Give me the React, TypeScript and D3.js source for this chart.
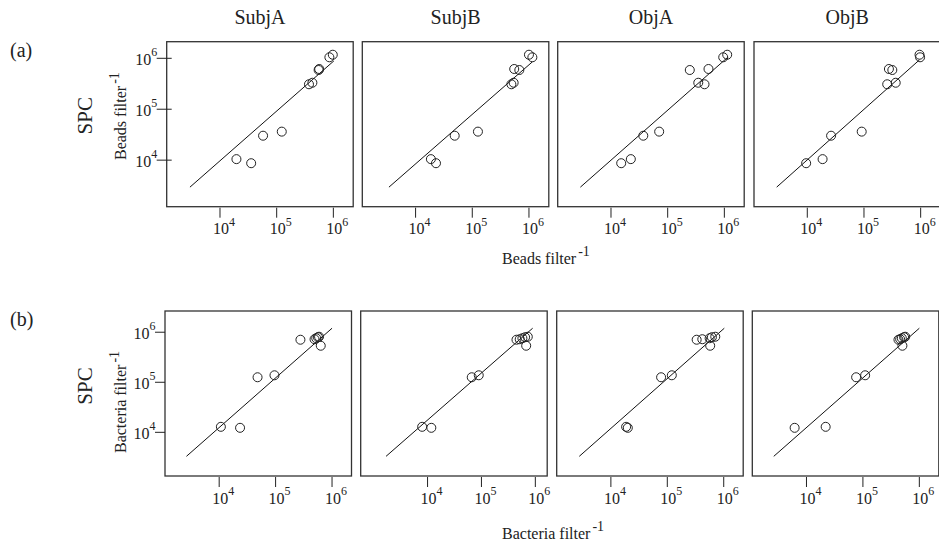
import React from "react";
import * as d3 from "d3";

// column titles
const panels = ["SubjA", "SubjB", "ObjA", "ObjB"];

// row (a): SPC vs beads
const spcBeads = [8710, 10470, 30200, 36310, 309000, 331100, 588800, 616600, 1047000, 1175000];
const beadsX = [
  [35480, 19500, 57540, 123000, 371500, 426600, 549500, 562300, 851100, 977200],
  [22910, 18620, 48980, 125900, 489800, 537000, 676100, 549500, 1148000, 1000000],
  [15140, 22390, 37150, 70790, 446700, 346700, 245500, 524800, 955000, 1122000],
  [9550, 18620, 26300, 91200, 257000, 363100, 316200, 275400, 977200, 955000],
];
// fitted line end points
const beadsFitX = [[2951, 1023000], [3388, 1148000], [2884, 1148000], [2884, 955000]];
const beadsFitY = [[2951, 891300], [2951, 851100], [2951, 1047000], [2951, 933300]];

// row (b): SPC vs bacteria
const spcBact = [12300, 12880, 125900, 138000, 537000, 707900, 724400, 758600, 794300, 812800];
const bactX = [
  [23440, 10720, 47860, 95500, 631000, 275400, 489800, 524800, 562300, 588800],
  [11750, 7943, 66070, 89130, 676100, 446700, 512900, 575400, 645700, 724400],
  [19950, 18620, 77620, 120200, 575400, 331100, 416900, 562300, 616600, 707900],
  [6166, 21880, 75860, 109600, 501200, 426600, 457100, 489800, 537000, 562300],
];
const bactFitX = [[2630, 1000000], [1698, 891300], [2754, 1023000], [2630, 1000000]];
const bactFitY = [[3311, 1202000], [3311, 1202000], [3311, 1202000], [3311, 1202000]];

const ticks = [1e4, 1e5, 1e6];
const tickExp = ["4", "5", "6"];

const W = 186.5;
const H = 165;
const font = "'Liberation Serif', 'Times New Roman', serif";

const rows = [
  {
    tag: "(a)", top: 41.7, lefts: [166.7, 362.3, 557.7, 754],
    xDom: [[1148, 2239000], [1148, 2239000], [1148, 2239000], [1148, 2239000]],
    yDom: [1219, 2118000], spc: spcBeads, xs: beadsX, fitX: beadsFitX, fitY: beadsFitY,
    yLab: "Beads filter", yLabStart: 160, tickIn: 5,
  },
  {
    tag: "(b)", top: 311, lefts: [165, 360.7, 556.7, 752.3],
    xDom: [[1096, 2213000], [575, 1660000], [1096, 2213000], [1096, 2213000]],
    yDom: [1340, 2655000], spc: spcBact, xs: bactX, fitX: bactFitX, fitY: bactFitY,
    yLab: "Bacteria filter", yLabStart: 453, tickIn: 0,
  },
];

const Pow = ({ x, y, exp, anchor }) => (
  <text x={x} y={y} textAnchor={anchor} fontSize={16} fill="#222">
    <tspan>10</tspan>
    <tspan dy={-8.5} fontSize={12}>{exp}</tspan>
  </text>
);

function Panel({ row, i }) {
  const left = row.lefts[i];
  const top = row.top;
  const x = d3.scaleLog().domain(row.xDom[i]).range([left, left + W]);
  const y = d3.scaleLog().domain(row.yDom).range([top + H, top]);
  const bottom = top + H;
  const fit = d3.line()([
    [x(row.fitX[i][0]), y(row.fitY[i][0])],
    [x(row.fitX[i][1]), y(row.fitY[i][1])],
  ]);
  return (
    <g>
      <rect x={left} y={top} width={W} height={H} fill="none" stroke="#333" strokeWidth={1.3} />
      {ticks.map((t, k) => (
        <g key={k}>
          <line x1={x(t)} x2={x(t)} y1={bottom + 1} y2={bottom + 11} stroke="#222" />
          <Pow x={x(t) + 4} y={bottom + 27.5} exp={tickExp[k]} anchor="middle" />
        </g>
      ))}
      {i === 0 &&
        ticks.map((t, k) => (
          <g key={"y" + k}>
            <line x1={left - 10} x2={left + row.tickIn} y1={y(t)} y2={y(t)} stroke="#222" />
            <Pow x={left - 9.5} y={y(t) + 6.5} exp={tickExp[k]} anchor="end" />
          </g>
        ))}
      <path d={fit} stroke="#111" strokeWidth={1} fill="none" />
      {row.xs[i].map((v, k) => (
        <circle key={k} cx={x(v)} cy={y(row.spc[k])} r={4.5} fill="none" stroke="#222" strokeWidth={1} />
      ))}
    </g>
  );
}

export default function App() {
  return (
    <svg width={939} height={542} style={{ position: "absolute", left: 0, top: 0, background: "#fff" }}
      fontFamily={font}>
      {panels.map((p, i) => (
        <text key={p} x={rows[0].lefts[i] + W / 2} y={24} textAnchor="middle" fontSize={20} fill="#222">{p}</text>
      ))}
      {rows.map((row, r) => (
        <g key={r}>
          <text x={10} y={row.top + 15} fontSize={20} fill="#222">{row.tag}</text>
          <text transform={`translate(91.5,${row.top + (r === 0 ? 74 : 75)}) rotate(-90)`} textAnchor="middle"
            fontSize={21} fill="#222">SPC</text>
          <text transform={`translate(125.5,${row.yLabStart}) rotate(-90)`} fontSize={16} fill="#222">
            {row.yLab}
            <tspan dx={2} dy={-7} fontSize={14}>-1</tspan>
          </text>
          {panels.map((p, i) => <Panel key={i} row={row} i={i} />)}
        </g>
      ))}
      <text x={502} y={264} fontSize={16} fill="#222">
        Beads filter<tspan dx={2} dy={-8} fontSize={14}>-1</tspan>
      </text>
      <text x={502} y={538.5} fontSize={16} fill="#222">
        Bacteria filter<tspan dx={2} dy={-8} fontSize={14}>-1</tspan>
      </text>
    </svg>
  );
}
